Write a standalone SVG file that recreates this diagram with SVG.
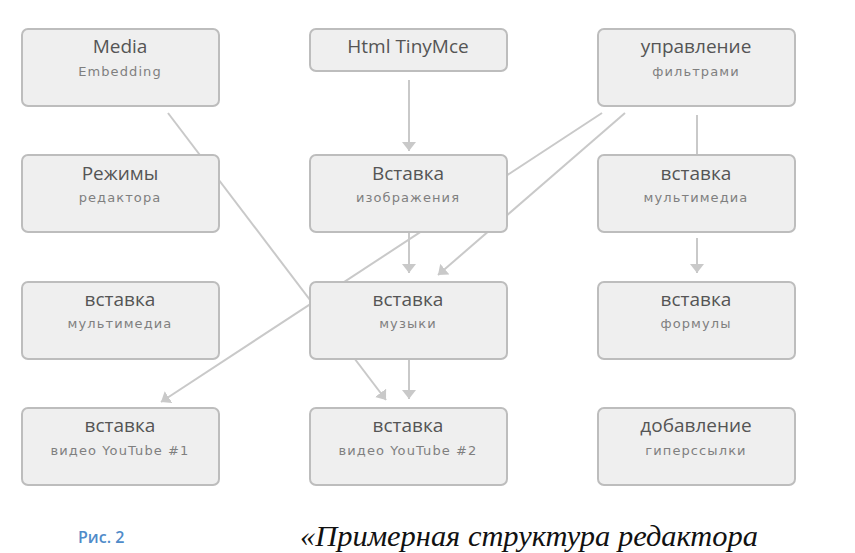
<svg xmlns="http://www.w3.org/2000/svg" width="855" height="553" viewBox="0 0 855 553">
<style>
.box{fill:#efefef;stroke:#bdbdbd;stroke-width:2}
.t{font-family:"Open Sans","DejaVu Sans",sans-serif;font-size:19px;fill:#555555;text-anchor:middle}
.s{font-family:"DejaVu Sans",Verdana,sans-serif;font-size:13px;letter-spacing:1.1px;fill:#7f7f7f;text-anchor:middle}
.c{stroke:#c9c9c9;stroke-width:2;fill:none}
.ca{marker-end:url(#ah)}
</style>
<defs>
<marker id="ah" markerUnits="userSpaceOnUse" markerWidth="10" markerHeight="14" refX="9" refY="7" orient="auto" viewBox="0 0 10 14">
<path d="M0,0 L9,7 L0,14 z" fill="#c9c9c9"/>
</marker>
</defs>
<rect width="855" height="553" fill="#ffffff"/>
<g id="connectors">
<line class="c ca" x1="409" y1="80" x2="409" y2="151"/>
<line class="c ca" x1="409" y1="232" x2="409" y2="273"/>
<line class="c ca" x1="409" y1="358" x2="409" y2="399"/>
<line class="c ca" x1="168" y1="113" x2="386" y2="400"/>
<line class="c ca" x1="602" y1="113" x2="161" y2="402"/>
<line class="c ca" x1="625" y1="113" x2="438" y2="275"/>
<line class="c" x1="697" y1="115" x2="697" y2="156"/>
<line class="c ca" x1="697" y1="238" x2="697" y2="273"/>
</g>
<g id="n-media"><rect class="box" x="22" y="29" width="197" height="77" rx="6"/><text class="t" x="120" y="53">Media</text><text class="s" x="120" y="76">Embedding</text></g>
<g id="n-html"><rect class="box" x="310" y="29" width="197" height="42" rx="6"/><text class="t" x="408" y="53">Html TinyMce</text></g>
<g id="n-filters"><rect class="box" x="598" y="29" width="197" height="77" rx="6"/><text class="t" x="696" y="53">управление</text><text class="s" x="696" y="76">фильтрами</text></g>
<g id="n-modes"><rect class="box" x="22" y="155" width="197" height="77" rx="6"/><text class="t" x="120" y="180">Режимы</text><text class="s" x="120" y="202">редактора</text></g>
<g id="n-image"><rect class="box" x="310" y="155" width="197" height="77" rx="6"/><text class="t" x="408" y="180">Вставка</text><text class="s" x="408" y="202">изображения</text></g>
<g id="n-multimedia-r"><rect class="box" x="598" y="155" width="197" height="77" rx="6"/><text class="t" x="696" y="180">вставка</text><text class="s" x="696" y="202">мультимедиа</text></g>
<g id="n-multimedia-l"><rect class="box" x="22" y="282" width="197" height="77" rx="6"/><text class="t" x="120" y="306">вставка</text><text class="s" x="120" y="328">мультимедиа</text></g>
<g id="n-music"><rect class="box" x="310" y="282" width="197" height="77" rx="6"/><text class="t" x="408" y="306">вставка</text><text class="s" x="408" y="328">музыки</text></g>
<g id="n-formula"><rect class="box" x="598" y="282" width="197" height="77" rx="6"/><text class="t" x="696" y="306">вставка</text><text class="s" x="696" y="328">формулы</text></g>
<g id="n-yt1"><rect class="box" x="22" y="408" width="197" height="77" rx="6"/><text class="t" x="120" y="432">вставка</text><text class="s" x="120" y="455">видео YouTube #1</text></g>
<g id="n-yt2"><rect class="box" x="310" y="408" width="197" height="77" rx="6"/><text class="t" x="408" y="432">вставка</text><text class="s" x="408" y="455">видео YouTube #2</text></g>
<g id="n-link"><rect class="box" x="598" y="408" width="197" height="77" rx="6"/><text class="t" x="696" y="432">добавление</text><text class="s" x="696" y="455">гиперссылки</text></g>
<text x="78" y="543" font-family="'Open Sans','Liberation Sans',sans-serif" font-size="16" font-weight="600" fill="#4f8bc9">Рис. 2</text>
<text x="300" y="546" font-family="'Liberation Serif','DejaVu Serif',serif" font-size="30" font-style="italic" fill="#111111" textLength="458" lengthAdjust="spacingAndGlyphs">«Примерная структура редактора</text>
</svg>
